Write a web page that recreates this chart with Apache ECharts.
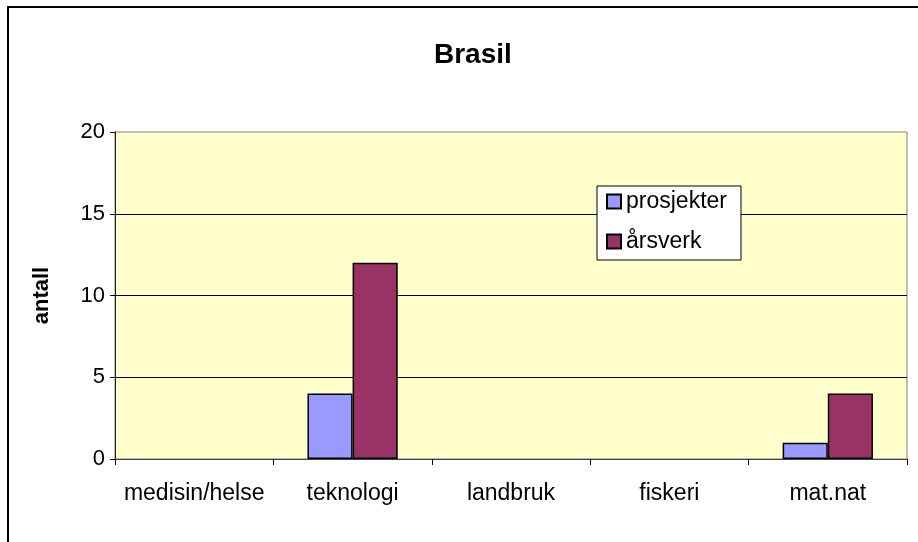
<!DOCTYPE html>
<html>
<head>
<meta charset="utf-8">
<script src="https://cdn.jsdelivr.net/npm/echarts@6/dist/echarts.min.js"></script>
<style>
  html, body { margin: 0; padding: 0; background: #fff; }
  #chart { width: 918px; height: 542px; }
</style>
</head>
<body>
<div id="chart"></div>
<script>
var categories = ['medisin/helse', 'teknologi', 'landbruk', 'fiskeri', 'mat.nat'];
var prosjekter = [0, 4, 0, 0, 1];
var arsverk = [0, 12, 0, 0, 4];
var seriesNames = ['prosjekter', 'årsverk'];

var font = 'Liberation Sans, Arial, sans-serif';

// Excel draws nothing for a zero bar, so hide those
function bars(values) {
    return values.map(function (v) { return v === 0 ? '-' : v; });
}

var option = {
    backgroundColor: '#ffffff',
    animation: false,
    title: {
        text: 'Brasil',
        left: 429,
        top: 36,
        textStyle: { fontFamily: font, fontSize: 28, fontWeight: 'bold', color: '#000' }
    },
    legend: {
        orient: 'vertical',
        left: 597,
        top: 186,
        padding: [4, 14, 7, 9],
        itemGap: 17,
        itemWidth: 14,
        itemHeight: 14,
        backgroundColor: '#ffffff',
        borderColor: '#000',
        borderWidth: 1,
        icon: 'rect',
        textStyle: { fontFamily: font, fontSize: 23, color: '#000', lineHeight: 22 },
        data: seriesNames
    },
    grid: {
        left: 115,
        right: 11,
        top: 132,
        bottom: 83,
        show: true,
        backgroundColor: '#FFFFCC',
        borderColor: '#808080',
        borderWidth: 1
    },
    xAxis: {
        type: 'category',
        data: categories,
        axisLine: { lineStyle: { color: '#404040' } },
        axisTick: { show: true, interval: 0, length: 6, lineStyle: { color: '#000' } },
        axisLabel: { interval: 0, fontFamily: font, fontSize: 23, color: '#000', margin: 23 }
    },
    yAxis: {
        type: 'value',
        min: 0,
        max: 20,
        interval: 5,
        name: 'antall',
        nameLocation: 'middle',
        nameGap: 62,
        nameTextStyle: { fontFamily: font, fontSize: 22, fontWeight: 'bold', color: '#000' },
        axisLine: { show: true, lineStyle: { color: '#202020' } },
        axisTick: { show: true, length: 5, lineStyle: { color: '#000' } },
        axisLabel: { fontFamily: font, fontSize: 22, color: '#000', margin: 10 },
        splitLine: { show: true, showMinLine: false, showMaxLine: false, lineStyle: { color: '#000', width: 1 } }
    },
    series: [
        {
            name: seriesNames[0],
            type: 'bar',
            data: bars(prosjekter),
            barGap: '0%',
            barCategoryGap: '43%',
            itemStyle: { color: '#9999FF', borderColor: '#000', borderWidth: 1.5 }
        },
        {
            name: seriesNames[1],
            type: 'bar',
            data: bars(arsverk),
            itemStyle: { color: '#993366', borderColor: '#000', borderWidth: 1.5 }
        }
    ],
    graphic: [
        {
            type: 'rect',
            shape: { x: 8, y: 7, width: 930, height: 560 },
            style: { fill: 'none', stroke: '#000', lineWidth: 2 },
            silent: true
        }
    ]
};

var myChart = echarts.init(document.getElementById('chart'));
myChart.setOption(option);
</script>
</body>
</html>
